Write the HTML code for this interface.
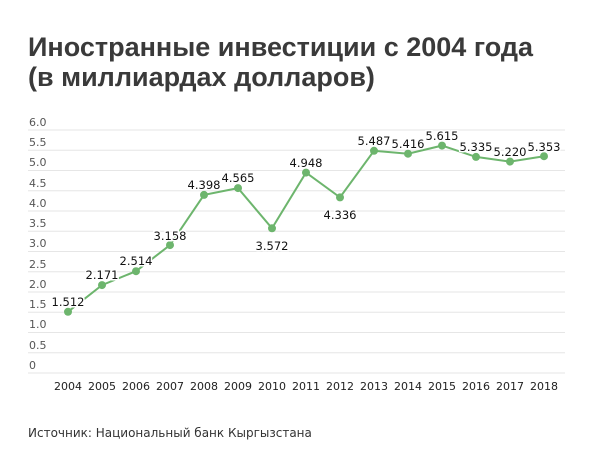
<!DOCTYPE html><html><head><meta charset="utf-8"><style>
body{margin:0;background:#fff;width:600px;height:469px;overflow:hidden;font-family:"Liberation Sans","DejaVu Sans",sans-serif}
</style></head><body>
<svg width="600" height="469" xmlns="http://www.w3.org/2000/svg" font-family="'DejaVu Sans','Liberation Sans',sans-serif">
<text x="28" y="56" font-size="27" font-weight="bold" fill="#3a3a3a" font-family="'Liberation Sans',sans-serif">Иностранные инвестиции с 2004 года</text>
<text x="28" y="86" font-size="27" font-weight="bold" fill="#3a3a3a" font-family="'Liberation Sans',sans-serif">(в миллиардах долларов)</text>
<g stroke="#e6e6e6" stroke-width="1">
<line x1="28" x2="565" y1="130" y2="130"/><line x1="28" x2="565" y1="150.25" y2="150.25"/><line x1="28" x2="565" y1="170.5" y2="170.5"/><line x1="28" x2="565" y1="190.75" y2="190.75"/><line x1="28" x2="565" y1="211" y2="211"/><line x1="28" x2="565" y1="231.25" y2="231.25"/><line x1="28" x2="565" y1="251.5" y2="251.5"/><line x1="28" x2="565" y1="271.75" y2="271.75"/><line x1="28" x2="565" y1="292" y2="292"/><line x1="28" x2="565" y1="312.25" y2="312.25"/><line x1="28" x2="565" y1="332.5" y2="332.5"/><line x1="28" x2="565" y1="352.75" y2="352.75"/><line x1="28" x2="565" y1="373" y2="373"/>
</g>
<g font-size="11" fill="#555">
<text x="29" y="126">6.0</text><text x="29" y="146">5.5</text><text x="29" y="166">5.0</text><text x="29" y="187">4.5</text><text x="29" y="207">4.0</text><text x="29" y="227">3.5</text><text x="29" y="247">3.0</text><text x="29" y="268">2.5</text><text x="29" y="288">2.0</text><text x="29" y="308">1.5</text><text x="29" y="328">1.0</text><text x="29" y="349">0.5</text><text x="29" y="369">0</text>
</g>
<g font-size="11" fill="#222" text-anchor="middle">
<text x="68" y="390">2004</text><text x="102" y="390">2005</text><text x="136" y="390">2006</text><text x="170" y="390">2007</text><text x="204" y="390">2008</text><text x="238" y="390">2009</text><text x="272" y="390">2010</text><text x="306" y="390">2011</text><text x="340" y="390">2012</text><text x="374" y="390">2013</text><text x="408" y="390">2014</text><text x="442" y="390">2015</text><text x="476" y="390">2016</text><text x="510" y="390">2017</text><text x="544" y="390">2018</text>
</g>
<polyline fill="none" stroke="#6db56d" stroke-width="2" points="68,311.8 102,285.1 136,271.2 170,245.1 204,194.9 238,188.1 272,228.3 306,172.6 340,197.4 374,150.8 408,153.7 442,145.6 476,156.9 510,161.6 544,156.2"/>
<g fill="#6db56d">
<circle cx="68" cy="311.8" r="4"/><circle cx="102" cy="285.1" r="4"/><circle cx="136" cy="271.2" r="4"/><circle cx="170" cy="245.1" r="4"/><circle cx="204" cy="194.9" r="4"/><circle cx="238" cy="188.1" r="4"/><circle cx="272" cy="228.3" r="4"/><circle cx="306" cy="172.6" r="4"/><circle cx="340" cy="197.4" r="4"/><circle cx="374" cy="150.8" r="4"/><circle cx="408" cy="153.7" r="4"/><circle cx="442" cy="145.6" r="4"/><circle cx="476" cy="156.9" r="4"/><circle cx="510" cy="161.6" r="4"/><circle cx="544" cy="156.2" r="4"/>
</g>
<g font-size="11.5" fill="#111" text-anchor="middle" stroke="#fff" stroke-width="3" paint-order="stroke">
<text x="68" y="306">1.512</text><text x="102" y="279">2.171</text><text x="136" y="265">2.514</text><text x="170" y="240">3.158</text><text x="204" y="189">4.398</text><text x="238" y="182">4.565</text><text x="272" y="250">3.572</text><text x="306" y="167">4.948</text><text x="340" y="219">4.336</text><text x="374" y="145">5.487</text><text x="408" y="148">5.416</text><text x="442" y="140">5.615</text><text x="476" y="151">5.335</text><text x="510" y="156">5.220</text><text x="544" y="151">5.353</text>
</g>
<text x="28" y="437" font-size="12" fill="#333">Источник:  Национальный банк Кыргызстана</text>
</svg>
</body></html>
